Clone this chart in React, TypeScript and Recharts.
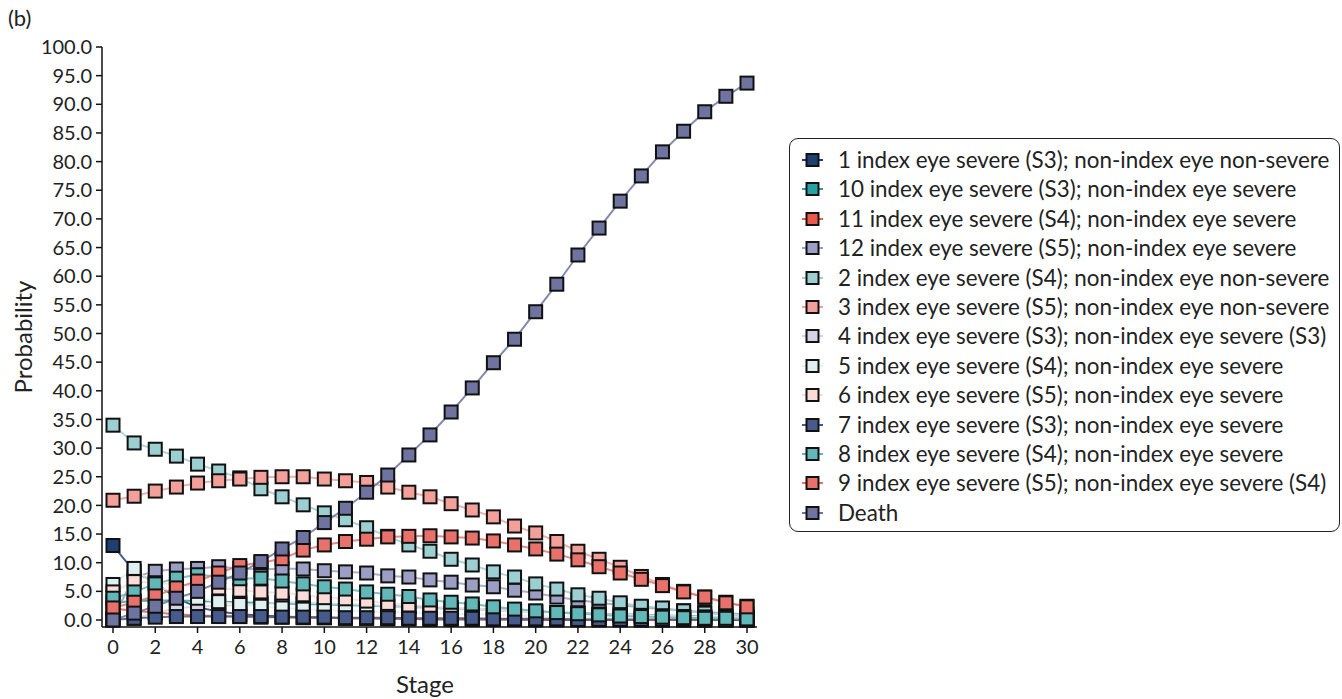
import React from "react";
import { LineChart, Line, XAxis, YAxis } from "recharts";

const stages = [0,1,2,3,4,5,6,7,8,9,10,11,12,13,14,15,16,17,18,19,20,21,22,23,24,25,26,27,28,29,30];

const s1 = [13.0,8.5,6.5,3.8,2.2,1.5,1.0,0.8,0.6,0.5,0.4,0.3,0.3,0.2,0.2,0.1,0.1,0.1,0.1,0.1,0.0,0.0,0.0,0.0,0.0,0.0,0.0,0.0,0.0,0.0,0.0];
const s10 = [3.0,3.3,3.4,3.4,3.3,3.2,3.1,3.0,2.9,2.8,2.7,2.6,2.5,2.4,2.3,2.2,2.0,1.9,1.8,1.6,1.5,1.3,1.2,1.1,1.0,0.9,0.8,0.7,0.6,0.5,0.4];
const s11 = [2.0,1.6,1.3,1.0,0.8,0.7,0.6,0.5,0.5,0.4,0.4,0.3,0.3,0.3,0.2,0.2,0.2,0.2,0.1,0.1,0.1,0.1,0.1,0.1,0.1,0.0,0.0,0.0,0.0,0.0,0.0];
const s12 = [0.3,7.5,8.5,8.9,9.0,9.3,9.0,8.8,9.0,8.9,8.6,8.4,8.2,7.7,7.5,7.0,6.6,6.1,5.8,5.2,4.7,4.0,3.5,3.0,2.6,2.2,1.9,1.6,1.4,1.2,1.0];
const s2 = [34.0,30.9,29.8,28.6,27.2,26.0,24.8,22.9,21.5,20.1,18.7,17.5,16.1,14.6,13.1,12.0,10.6,9.6,8.4,7.5,6.3,5.4,4.4,3.8,3.0,2.4,2.1,1.6,1.2,0.9,0.5];
const s3 = [20.9,21.6,22.5,23.2,23.9,24.3,24.6,24.9,25.0,25.0,24.6,24.3,24.0,23.2,22.3,21.5,20.3,19.2,18.0,16.4,15.2,13.7,12.0,10.6,9.2,7.6,6.2,5.0,4.0,3.1,2.4];
const s4 = [0.2,0.3,1.2,2.1,2.3,2.5,2.6,2.8,3.1,3.0,2.9,2.8,2.6,2.4,2.2,2.0,1.9,1.8,1.7,1.5,1.4,1.3,1.2,1.0,0.9,0.8,0.7,0.6,0.5,0.5,0.4];
const s5 = [6.2,9.0,6.0,4.6,3.8,3.2,2.7,2.4,2.1,1.9,1.7,1.6,1.5,1.4,1.3,1.2,1.1,1.0,0.9,0.8,0.7,0.6,0.5,0.5,0.4,0.4,0.3,0.3,0.2,0.2,0.2];
const s6 = [4.9,6.7,6.5,6.2,5.9,5.6,5.2,4.9,4.7,4.4,3.9,3.7,3.3,2.9,2.6,2.4,2.2,2.0,1.8,1.6,1.4,1.3,1.1,1.0,0.9,0.8,0.7,0.6,0.5,0.5,0.4];
const s7 = [0.0,0.3,0.5,0.6,0.6,0.6,0.6,0.6,0.5,0.5,0.5,0.4,0.4,0.4,0.3,0.3,0.3,0.3,0.2,0.2,0.2,0.2,0.1,0.1,0.1,0.1,0.1,0.1,0.1,0.0,0.0];
const s8 = [3.8,4.9,6.3,7.3,7.9,7.6,7.2,7.3,6.8,6.3,5.8,5.4,4.9,4.5,4.1,3.5,3.1,2.8,2.3,1.9,1.6,1.3,1.1,0.9,0.7,0.6,0.5,0.4,0.3,0.3,0.2];
const s9 = [2.1,3.1,4.2,5.6,6.8,8.2,9.5,10.0,10.7,12.2,13.1,13.7,14.1,14.5,14.6,14.7,14.5,14.3,13.8,13.1,12.4,11.5,10.5,9.3,8.2,7.1,6.0,4.9,4.0,3.0,2.3];
const death = [0.0,1.2,2.4,3.8,5.0,6.6,8.2,10.2,12.4,14.4,17.0,19.5,22.3,25.3,28.8,32.3,36.3,40.5,44.9,49.0,53.8,58.6,63.7,68.4,73.1,77.5,81.7,85.3,88.7,91.4,93.7];

const yTicks = [0,5,10,15,20,25,30,35,40,45,50,55,60,65,70,75,80,85,90,95,100];
const xTicks = [0,2,4,6,8,10,12,14,16,18,20,22,24,26,28,30];

const seriesList = [
  { key: "s1", name: "1 index eye severe (S3); non-index eye non-severe", color: "#1f3f73", values: s1 },
  { key: "s10", name: "10 index eye severe (S3); non-index eye severe", color: "#27a2a4", values: s10 },
  { key: "s11", name: "11 index eye severe (S4); non-index eye severe", color: "#e85a4c", values: s11 },
  { key: "s12", name: "12 index eye severe (S5); non-index eye severe", color: "#9d9ec4", values: s12 },
  { key: "s2", name: "2 index eye severe (S4); non-index eye non-severe", color: "#9ccfd1", values: s2 },
  { key: "s3", name: "3 index eye severe (S5); non-index eye non-severe", color: "#f2a099", values: s3 },
  { key: "s4", name: "4 index eye severe (S3); non-index eye severe (S3)", color: "#d3d3e5", values: s4 },
  { key: "s5", name: "5 index eye severe (S4); non-index eye severe", color: "#e0f0f0", values: s5 },
  { key: "s6", name: "6 index eye severe (S5); non-index eye severe", color: "#f9dcd8", values: s6 },
  { key: "s7", name: "7 index eye severe (S3); non-index eye severe", color: "#475a8c", values: s7 },
  { key: "s8", name: "8 index eye severe (S4); non-index eye severe", color: "#62b8b8", values: s8 },
  { key: "s9", name: "9 index eye severe (S5); non-index eye severe (S4)", color: "#e9716b", values: s9 },
  { key: "death", name: "Death", color: "#6f73a0", values: death },
];

const data = stages.map((st, i) => {
  const row: any = { stage: st };
  seriesList.forEach((s) => { row[s.key] = s.values[i]; });
  return row;
});

const FONT = "Lato, 'Open Sans', sans-serif";

const makeDot = (color: string) => (props: any) => {
  const { cx, cy, index } = props;
  if (cx == null || cy == null) return <g key={index} />;
  return (
    <rect key={index} x={cx - 6.5} y={cy - 6.5} width={13} height={13} fill={color} stroke="#111" strokeWidth={2} />
  );
};

export default function App() {
  return (
    <div style={{ position: "absolute", left: 0, top: 0, width: 1342, height: 699, background: "#fff", fontFamily: FONT }}>
      <div style={{ position: "absolute", left: 8, top: 4, fontSize: 22, color: "#222" }}>(b)</div>
      <div style={{ position: "absolute", left: 22, top: 337, transform: "translate(-50%, -50%) rotate(-90deg)", fontSize: 24, color: "#222", whiteSpace: "nowrap" }}>Probability</div>
      <div style={{ position: "absolute", left: 425, top: 683, transform: "translate(-50%, -50%)", fontSize: 24, color: "#222" }}>Stage</div>
      <LineChart width={1342} height={699} data={data} margin={{ top: 47, right: 585, left: 0, bottom: 42 }}>
        <XAxis
          dataKey="stage"
          type="number"
          domain={[0, 30]}
          ticks={xTicks}
          padding={{ left: 11, right: 10 }}
          height={30}
          tickSize={6}
          tickMargin={7}
          stroke="#111"
          strokeWidth={1.5}
          tick={{ fill: "#222", fontSize: 20, fontFamily: FONT }}
        />
        <YAxis
          type="number"
          domain={[0, 100]}
          ticks={yTicks}
          width={102}
          padding={{ bottom: 7, top: 0 }}
          tickSize={6}
          tickMargin={4}
          stroke="#111"
          strokeWidth={1.5}
          tickFormatter={(v: number) => v.toFixed(1)}
          tick={{ fill: "#222", fontSize: 20, fontFamily: FONT }}
          interval={0}
        />
        {seriesList.map((s) => (
          <Line
            key={s.key}
            dataKey={s.key}
            name={s.name}
            type="linear"
            stroke={s.color}
            strokeWidth={2}
            strokeOpacity={0.85}
            dot={makeDot(s.color)}
            activeDot={false}
            isAnimationActive={false}
          />
        ))}
      </LineChart>
      <div style={{ position: "absolute", left: 789, top: 138, width: 551, height: 394, border: "1.5px solid #222", borderRadius: 9, boxSizing: "border-box", background: "#fff" }}>
        {seriesList.map((s, i) => (
          <div key={s.key} style={{ position: "absolute", left: 0, top: 21 - 15 + i * 29.4, height: 30, display: "flex", alignItems: "center", whiteSpace: "nowrap" }}>
            <svg width={48} height={30} style={{ display: "block" }}>
              <line x1={12} y1={15} x2={33} y2={15} stroke={s.color} strokeWidth={2} />
              <rect x={16.5} y={9} width={12} height={12} fill={s.color} stroke="#111" strokeWidth={2} />
            </svg>
            <span style={{ fontSize: 22.4, color: "#222", lineHeight: "30px" }}>{s.name}</span>
          </div>
        ))}
      </div>
    </div>
  );
}
